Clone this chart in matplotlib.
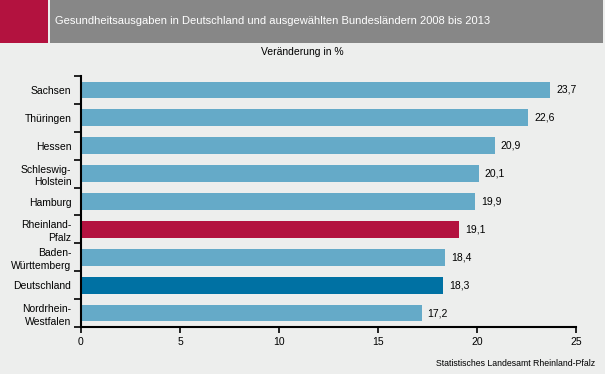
import matplotlib
matplotlib.use("Agg")
import matplotlib.pyplot as plt
from matplotlib.patches import Rectangle
import numpy as np

# data
laender = ["Sachsen", "Thüringen", "Hessen", "Schleswig-\nHolstein", "Hamburg",
           "Rheinland-\nPfalz", "Baden-\nWürttemberg", "Deutschland", "Nordrhein-\nWestfalen"]
werte = [23.7, 22.6, 20.9, 20.1, 19.9, 19.1, 18.4, 18.3, 17.2]
xticks = [0, 5, 10, 15, 20, 25]

light_blue = "#65AAC8"
red = "#B3123F"
dark_blue = "#0071A3"
farben = {"Rheinland-\nPfalz": red, "Deutschland": dark_blue}
colors = [farben.get(l, light_blue) for l in laender]

plt.rcParams["font.family"] = ["Liberation Sans", "DejaVu Sans"]

fig = plt.figure(figsize=(6.05, 3.74), dpi=100)
fig.patch.set_facecolor("#EDEEED")

# header band
fig.patches.append(Rectangle((0, 1 - 43 / 374), 48 / 605, 43 / 374, transform=fig.transFigure,
                             facecolor=red, edgecolor="none"))
fig.patches.append(Rectangle((50 / 605, 1 - 43 / 374), 553 / 605, 43 / 374, transform=fig.transFigure,
                             facecolor="#878787", edgecolor="none"))
fig.text(55 / 605, 1 - 21 / 374, "Gesundheitsausgaben in Deutschland und ausgewählten Bundesländern 2008 bis 2013",
         color="white", fontsize=8, va="center", ha="left")
fig.text(0.5, 1 - 52 / 374, "Veränderung in %", fontsize=7.5, ha="center", va="center")
fig.text(595 / 605, 1 - 364 / 374, "Statistisches Landesamt Rheinland-Pfalz", fontsize=6.3,
         ha="right", va="center")

ax = fig.add_axes([81 / 605, 1 - 327 / 374, 495 / 605, 251 / 374])
ax.set_facecolor("none")
y = np.arange(len(laender))
ax.barh(y, werte, height=0.6, color=colors)
for yi, v in zip(y, werte):
    ax.text(v + 0.3, yi, f"{v:.1f}".replace(".", ","), va="center", ha="left", fontsize=7.5)

ax.set_xlim(0, 25)
ax.set_ylim(len(laender) - 0.5, -0.5)
ax.set_xticks(xticks)
ax.set_xticklabels([str(t) for t in xticks], fontsize=7.5)
ax.set_yticks(y)
ax.set_yticklabels(laender, fontsize=7.5, linespacing=1.35)
ax.set_yticks(np.arange(-0.5, len(laender), 1), minor=True)
ax.tick_params(axis="y", which="major", length=0, pad=7)
ax.tick_params(axis="y", which="minor", length=5, width=1.2, direction="out")
ax.tick_params(axis="x", length=4, width=1.2, direction="out", pad=3)
for s in ["top", "right"]:
    ax.spines[s].set_visible(False)
for s in ["left", "bottom"]:
    ax.spines[s].set_linewidth(1.5)

fig.savefig("out.png", dpi=100, facecolor=fig.get_facecolor())
